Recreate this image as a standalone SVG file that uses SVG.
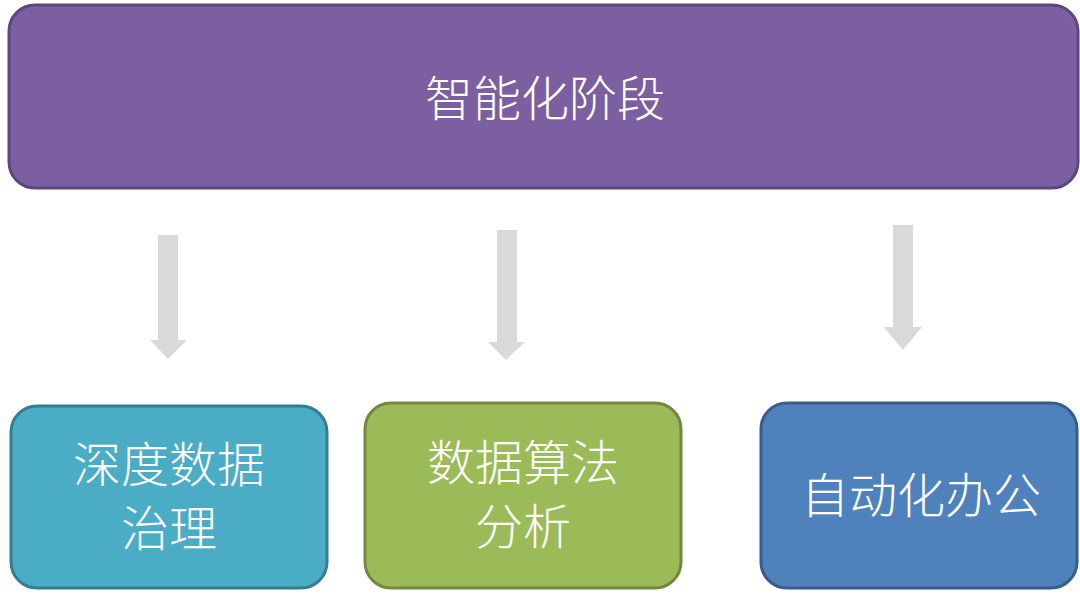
<svg xmlns="http://www.w3.org/2000/svg" width="1080" height="601" viewBox="0 0 1080 601">
<style>
.t{font-family:"Noto Sans CJK SC","Noto Sans",sans-serif;fill:#fff;font-size:48px;font-weight:300;text-anchor:middle}
.a{fill:#D9D9DB}
</style>
<rect width="1080" height="601" fill="#fff"/>
<g id="top"><rect x="9" y="5" width="1069" height="183" rx="26" fill="#7B5FA0" stroke="#5E4680" stroke-width="3"/>
<text class="t" x="545" y="116" font-size="50">智能化阶段</text></g>
<g id="connectors">
<polygon class="a" points="158,235 178,235 178,340 187,340 168,359 150,340 158,340"/>
<polygon class="a" points="497,230 517,230 517,342 525,342 506,360 488,342 497,342"/>
<polygon class="a" points="893,225 913,225 913,327 922,327 903,350 884,327 893,327"/>
</g>
<g id="n1"><rect x="11" y="406" width="316" height="182" rx="26" fill="#4BACC6" stroke="#357D91" stroke-width="3"/>
<text class="t" x="169" y="482">深度数据</text><text class="t" x="169" y="546">治理</text></g>
<g id="n2"><rect x="365" y="403" width="316" height="185" rx="26" fill="#9BBB59" stroke="#71893F" stroke-width="3"/>
<text class="t" x="523" y="480">数据算法</text><text class="t" x="523" y="544">分析</text></g>
<g id="n3"><rect x="761" y="403" width="316" height="185" rx="26" fill="#4F81BD" stroke="#385D8A" stroke-width="3"/>
<text class="t" x="921" y="513">自动化办公</text></g>
</svg>
